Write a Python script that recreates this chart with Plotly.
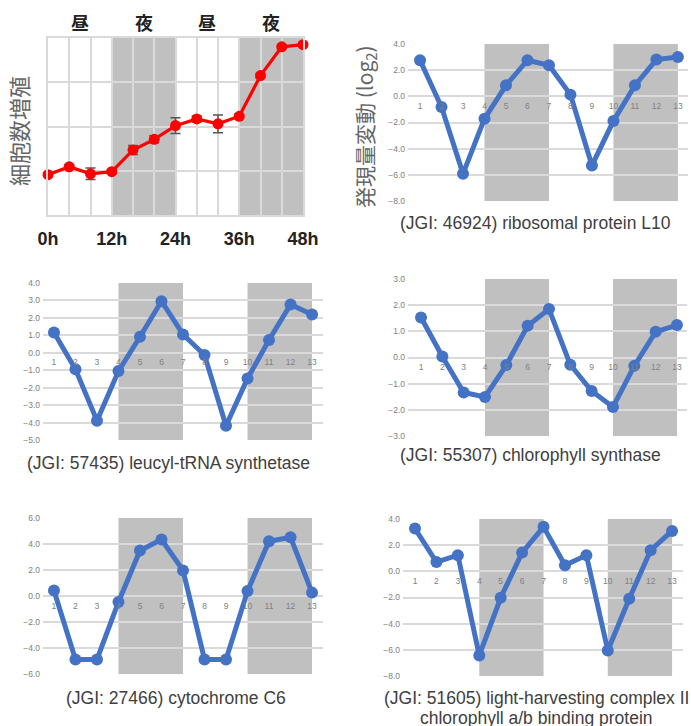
import plotly.graph_objects as go

W, H = 691, 726

# ---------------- data ----------------
growth_hours = [0, 4, 8, 12, 16, 20, 24, 28, 32, 36, 40, 44, 48]
growth_values = [0.91, 1.09, 0.93, 0.98, 1.47, 1.71, 2.02, 2.17, 2.06, 2.23, 3.15, 3.80, 3.85]
growth_errors = [0.04, 0.05, 0.13, 0.05, 0.10, 0.08, 0.18, 0.07, 0.20, 0.05, 0.05, 0.04, 0.03]
hour_tick_values = [0, 12, 24, 36, 48]
hour_tick_labels = ["0h", "12h", "24h", "36h", "48h"]
period_labels = ["昼", "夜", "昼", "夜"]
period_centers = [6, 18, 30, 42]
dark_periods = [(12, 24), (36, 48)]

timepoints = list(range(1, 14))
gene_dark_periods = [(4, 7), (10, 13)]

l10_values = [2.76, -0.82, -5.92, -1.71, 0.84, 2.76, 2.37, 0.13, -5.28, -1.89, 0.84, 2.81, 3.01]
leucyl_values = [1.16, -0.95, -3.89, -1.05, 0.92, 2.96, 1.05, -0.13, -4.18, -1.47, 0.73, 2.77, 2.19]
chlsyn_values = [1.53, 0.04, -1.34, -1.51, -0.29, 1.21, 1.85, -0.28, -1.28, -1.89, -0.32, 0.98, 1.24]
cytc6_values = [0.43, -4.88, -4.88, -0.46, 3.50, 4.34, 1.97, -4.88, -4.88, 0.38, 4.21, 4.52, 0.26]
lhc_values = [3.27, 0.71, 1.23, -6.43, -2.02, 1.43, 3.40, 0.46, 1.23, -6.05, -2.09, 1.61, 3.09]

captions = [
    ["(JGI: 46924) ribosomal protein L10"],
    ["(JGI: 57435) leucyl-tRNA synthetase"],
    ["(JGI: 55307) chlorophyll synthase"],
    ["(JGI: 27466) cytochrome C6"],
    ["(JGI: 51605) light-harvesting complex II", "chlorophyll a/b binding protein"],
]
gene_series = [l10_values, leucyl_values, chlsyn_values, cytc6_values, lhc_values]

# ---------------- layout helpers ----------------
def fx(px):
    return px / W


def fy(py):
    return 1 - py / H


BLUE = "#4472C4"
SHADE = "#c0c0c0"
GRID = "#dadada"
LATIN = "Liberation Sans, Arial, sans-serif"
CJK = "Noto Sans CJK JP, sans-serif"

fig = go.Figure()
shapes = []
annotations = []

# ---------------- panel 1: cell growth ----------------
p1 = dict(x0=48, x1=303, top=38, bot=215)
fig.add_trace(go.Scatter(
    x=growth_hours, y=growth_values,
    mode="lines+markers",
    line=dict(color="#ff0000", width=3.2),
    marker=dict(color="#ff0000", size=11),
    error_y=dict(type="data", array=growth_errors, visible=True,
                 color="#555555", thickness=1.5, width=5),
    xaxis="x", yaxis="y", cliponaxis=False, showlegend=False,
))
fig.update_layout(
    xaxis=dict(domain=[fx(p1["x0"]), fx(p1["x1"])], range=[0, 48],
               tickvals=hour_tick_values, ticktext=hour_tick_labels,
               showgrid=True, gridcolor=GRID, gridwidth=2,
               minor=dict(dtick=4, tick0=0, showgrid=True, gridcolor=GRID, gridwidth=2, ticks=""),
               showline=True, mirror=True, linecolor=GRID, linewidth=2,
               zeroline=False, ticks="", ticklabelstandoff=6, automargin=False,
               tickfont=dict(family=LATIN, size=18, color="#222222", weight="bold"),
               anchor="y"),
    yaxis=dict(domain=[fy(p1["bot"]), fy(p1["top"])], range=[0, 4], dtick=1,
               showgrid=True, gridcolor=GRID, gridwidth=2,
               showline=True, mirror=True, linecolor=GRID, linewidth=2,
               zeroline=False, showticklabels=False, ticks="", anchor="x",
               automargin=False),
)
for (a, b) in dark_periods:
    shapes.append(dict(type="rect", xref="x", yref="y domain", x0=a, x1=b, y0=0, y1=1,
                       fillcolor=SHADE, line=dict(width=0), layer="below"))
for lab, c in zip(period_labels, period_centers):
    annotations.append(dict(text=lab, x=c, y=fy(22), xref="x", yref="paper",
                            showarrow=False, xanchor="center", yanchor="middle",
                            font=dict(family=CJK, size=18, color="#222222", weight="bold")))
annotations.append(dict(text="細胞数増殖", x=fx(18), y=fy(131), xref="paper", yref="paper",
                        showarrow=False, textangle=-90, xanchor="center", yanchor="middle",
                        font=dict(family=CJK, size=22, color="#666666")))

# ---------------- gene panels ----------------
panels = [
    dict(dx=(408, 688), xr=(0.44, 13.47), dy=(44, 201), yr=(-8, 4), dt=2, cap=(535, 223)),
    dict(dx=(43, 323), xr=(0.49, 13.51), dy=(283, 440), yr=(-5, 4), dt=1, cap=(168, 463)),
    dict(dx=(408, 687), xr=(0.39, 13.47), dy=(279, 436), yr=(-3, 3), dt=1, cap=(530, 455)),
    dict(dx=(43, 323), xr=(0.49, 13.51), dy=(518, 674), yr=(-6, 6), dt=2, cap=(176, 698)),
    dict(dx=(403, 683), xr=(0.44, 13.51), dy=(519, 676), yr=(-8, 4), dt=2, cap=(536, 698)),
]

for i, (p, vals, cap) in enumerate(zip(panels, gene_series, captions)):
    n = i + 2
    xa, ya = f"x{n}", f"y{n}"
    fig.add_trace(go.Scatter(
        x=timepoints, y=vals, mode="lines+markers",
        line=dict(color=BLUE, width=5),
        marker=dict(color=BLUE, size=12),
        xaxis=xa, yaxis=ya, cliponaxis=False, showlegend=False,
    ))
    ybot_paper, ytop_paper = fy(p["dy"][1]), fy(p["dy"][0])
    ymin, ymax = p["yr"]
    zero_pos = ybot_paper + (0 - ymin) / (ymax - ymin) * (ytop_paper - ybot_paper)
    fig.update_layout(**{
        f"xaxis{n}": dict(domain=[fx(p["dx"][0]), fx(p["dx"][1])], range=list(p["xr"]),
                          tickvals=timepoints, showgrid=False, zeroline=False,
                          showline=False, ticks="", anchor="free", position=zero_pos,
                          ticklabelstandoff=3, automargin=False,
                          tickfont=dict(family=LATIN, size=8.5, color="#808080")),
        f"yaxis{n}": dict(domain=[ybot_paper, ytop_paper], range=[ymin, ymax],
                          dtick=p["dt"], tick0=0, tickformat=".1f",
                          showgrid=True, gridcolor=GRID, gridwidth=2,
                          zeroline=False, showline=False, ticks="",
                          ticklabelstandoff=2, anchor=xa, automargin=False,
                          tickfont=dict(family=LATIN, size=8.5, color="#808080")),
    })
    for (a, b) in gene_dark_periods:
        shapes.append(dict(type="rect", xref=xa, yref=f"{ya} domain", x0=a, x1=b, y0=0, y1=1,
                           fillcolor=SHADE, line=dict(width=0), layer="below"))
    for k, line in enumerate(cap):
        annotations.append(dict(text=line, x=fx(p["cap"][0]), y=fy(p["cap"][1] + 20 * k),
                                xref="paper", yref="paper", showarrow=False,
                                xanchor="center", yanchor="middle",
                                font=dict(family=LATIN, size=17.5, color="#404040")))

annotations.append(dict(text="発現量変動 (log<sub>2</sub>)", x=fx(365), y=fy(127),
                        xref="paper", yref="paper", showarrow=False, textangle=-90,
                        xanchor="center", yanchor="middle",
                        font=dict(family=CJK, size=21, color="#666666")))

fig.update_layout(
    width=W, height=H, margin=dict(l=0, r=0, t=0, b=0),
    paper_bgcolor="white", plot_bgcolor="white",
    shapes=shapes, annotations=annotations, showlegend=False,
)

fig.write_html("out.html",
               config={"displayModeBar": False},
               post_script="document.body.style.margin='0px';document.body.style.overflow='hidden';")
